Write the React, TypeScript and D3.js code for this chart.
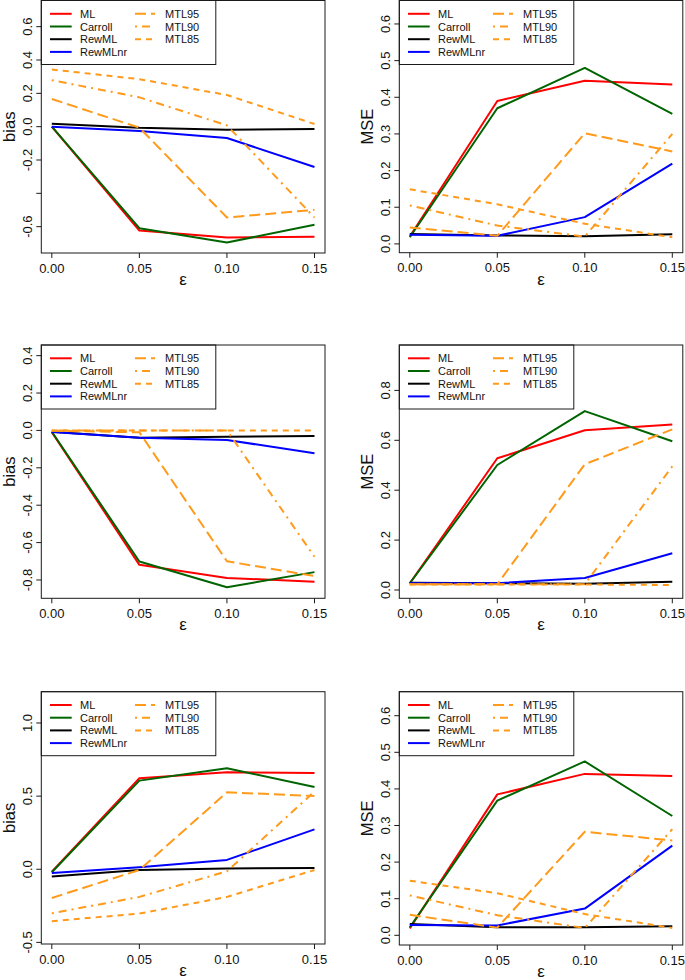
import React from "react";
import * as d3 from "d3";

// ---------- data ----------
const eps = [0, 0.05, 0.1, 0.15];
const xTickLabels = ["0.00", "0.05", "0.10", "0.15"];
const seriesNames = ["ML", "Carroll", "RewML", "RewMLnr", "MTL95", "MTL90", "MTL85"];
const seriesColors = ["#ff0000", "#006400", "#000000", "#0000ff", "#ff9a1a", "#ff9a1a", "#ff9a1a"];
const seriesDash = [null, null, null, null, "11 5", "2 5 8 5", "6 5"];

// panel 1: bias (top-left)
const biasTop = [
  [0, -0.623, -0.665, -0.661],
  [0, -0.609, -0.695, -0.589],
  [0.018, -0.006, -0.018, -0.014],
  [0, -0.026, -0.068, -0.242],
  [0.166, -0.006, -0.545, -0.499],
  [0.279, 0.176, 0.008, -0.545],
  [0.343, 0.285, 0.19, 0.016],
];
// panel 2: MSE (top-right)
const mseTop = [
  [0.02, 0.39, 0.445, 0.435],
  [0.018, 0.37, 0.48, 0.355],
  [0.027, 0.023, 0.021, 0.026],
  [0.025, 0.022, 0.073, 0.219],
  [0.045, 0.022, 0.302, 0.252],
  [0.105, 0.05, 0.02, 0.3],
  [0.149, 0.108, 0.055, 0.018],
];
// panel 3: bias (middle-left)
const biasMid = [
  [-0.009, -0.719, -0.789, -0.809],
  [-0.007, -0.701, -0.839, -0.758],
  [-0.007, -0.039, -0.034, -0.03],
  [-0.009, -0.039, -0.051, -0.122],
  [-0.002, -0.01, -0.7, -0.779],
  [0.0, 0.0, 0.0, -0.676],
  [0.0, -0.001, 0.0, 0.0],
];
// panel 4: MSE (middle-right)
const mseMid = [
  [0.027, 0.528, 0.64, 0.663],
  [0.027, 0.501, 0.717, 0.596],
  [0.029, 0.027, 0.025, 0.033],
  [0.027, 0.027, 0.048, 0.147],
  [0.023, 0.023, 0.504, 0.644],
  [0.023, 0.023, 0.023, 0.496],
  [0.022, 0.022, 0.022, 0.02],
];
// panel 5: bias (bottom-left)
const biasBot = [
  [-0.016, 0.622, 0.663, 0.658],
  [-0.02, 0.606, 0.69, 0.563],
  [-0.05, -0.005, 0.005, 0.009],
  [-0.025, 0.014, 0.064, 0.273],
  [-0.196, -0.005, 0.526, 0.501],
  [-0.301, -0.189, -0.014, 0.531],
  [-0.355, -0.303, -0.189, -0.005],
];
// panel 6: MSE (bottom-right)
const mseBot = [
  [0.019, 0.385, 0.441, 0.435],
  [0.022, 0.368, 0.475, 0.326],
  [0.031, 0.022, 0.022, 0.025],
  [0.028, 0.027, 0.073, 0.245],
  [0.056, 0.021, 0.283, 0.259],
  [0.109, 0.055, 0.02, 0.29],
  [0.149, 0.115, 0.058, 0.02],
];

const ticksBiasTop = [-0.6, -0.4, -0.2, 0, 0.2, 0.4, 0.6];
const labelsBiasTop = ["-0.6", "", "-0.2", "0.0", "0.2", "0.4", "0.6"];
const ticksMseTop = [0, 0.1, 0.2, 0.3, 0.4, 0.5, 0.6];
const labelsMseTop = ["0.0", "0.1", "0.2", "0.3", "0.4", "0.5", "0.6"];
const ticksBiasMid = [-0.8, -0.6, -0.4, -0.2, 0, 0.2, 0.4];
const labelsBiasMid = ["-0.8", "-0.6", "-0.4", "-0.2", "0.0", "0.2", "0.4"];
const ticksMseMid = [0, 0.2, 0.4, 0.6, 0.8];
const labelsMseMid = ["0.0", "0.2", "0.4", "0.6", "0.8"];
const ticksBiasBot = [-0.5, 0, 0.5, 1.0];
const labelsBiasBot = ["-0.5", "0.0", "0.5", "1.0"];
const ticksMseBot = [0, 0.1, 0.2, 0.3, 0.4, 0.5, 0.6];
const labelsMseBot = ["0.0", "0.1", "0.2", "0.3", "0.4", "0.5", "0.6"];

// ---------- layout ----------
const LEFT_X: [number, number] = [41.3, 325];
const RIGHT_X: [number, number] = [399.3, 682.8];

type Panel = {
  xr: [number, number];
  top: number;
  bottom: number;
  ydom: [number, number];
  ylab: string;
  data: number[][];
  ticks: number[];
  labels: string[];
};

const panels: Panel[] = [
  { xr: LEFT_X, top: 0.5, bottom: 253, ydom: [-0.758, 0.757], ylab: "bias", data: biasTop, ticks: ticksBiasTop, labels: labelsBiasTop },
  { xr: RIGHT_X, top: 0.5, bottom: 252.7, ydom: [-0.024, 0.664], ylab: "MSE", data: mseTop, ticks: ticksMseTop, labels: labelsMseTop },
  { xr: LEFT_X, top: 345, bottom: 598.3, ydom: [-0.898, 0.457], ylab: "bias", data: biasMid, ticks: ticksBiasMid, labels: labelsBiasMid },
  { xr: RIGHT_X, top: 345, bottom: 598.3, ydom: [-0.0333, 0.982], ylab: "MSE", data: mseMid, ticks: ticksMseMid, labels: labelsMseMid },
  { xr: LEFT_X, top: 691.7, bottom: 944, ydom: [-0.511, 1.214], ylab: "bias", data: biasBot, ticks: ticksBiasBot, labels: labelsBiasBot },
  { xr: RIGHT_X, top: 691.7, bottom: 945, ydom: [-0.0265, 0.6656], ylab: "MSE", data: mseBot, ticks: ticksMseBot, labels: labelsMseBot },
];

const FONT = "'Liberation Sans', Arial, Helvetica, sans-serif";
const FRAME = "#1a1a1a";

function PanelView({ p, idx }: { p: Panel; idx: number }) {
  const x = d3.scaleLinear().domain([-0.006, 0.156]).range(p.xr);
  const y = d3.scaleLinear().domain(p.ydom).range([p.bottom, p.top]);
  const line = d3
    .line<number>()
    .x((_, i) => x(eps[i]))
    .y((d) => y(d));
  const L = p.xr[0];
  const R = p.xr[1];
  const cx = (L + R) / 2;
  const cy = (p.top + p.bottom) / 2;
  const clipId = `clip${idx}`;
  const lgW = 174.5;
  const lgH = 64;
  const rowY = (k: number) => p.top + 13.3 + k * 12.7;
  return (
    <g>
      <defs>
        <clipPath id={clipId}>
          <rect x={L} y={p.top} width={R - L} height={p.bottom - p.top} />
        </clipPath>
      </defs>
      <g clipPath={`url(#${clipId})`}>
        {p.data.map((vals, s) => (
          <path
            key={s}
            d={line(vals) || ""}
            fill="none"
            stroke={seriesColors[s]}
            strokeWidth={2}
            strokeDasharray={seriesDash[s] || undefined}
            strokeLinejoin="round"
          />
        ))}
      </g>
      {/* legend */}
      <rect x={L} y={p.top} width={lgW} height={lgH} fill="white" stroke={FRAME} strokeWidth={1} />
      {seriesNames.map((nm, s) => {
        const col = s < 4 ? 0 : 1;
        const row = s < 4 ? s : s - 4;
        const lx0 = L + (col === 0 ? 8.7 : 93.7);
        const lx1 = L + (col === 0 ? 30.4 : 113.7);
        const tx = L + (col === 0 ? 38.7 : 123.7);
        const yy = rowY(row);
        return (
          <g key={nm}>
            <line x1={lx0} x2={lx1} y1={yy} y2={yy} stroke={seriesColors[s]} strokeWidth={2} strokeDasharray={seriesDash[s] || undefined} />
            <text x={tx} y={yy + 4} fontSize={11} fontFamily={FONT} fill="#111">
              {nm}
            </text>
          </g>
        );
      })}
      {/* box */}
      <rect x={L} y={p.top} width={R - L} height={p.bottom - p.top} fill="none" stroke={FRAME} strokeWidth={1} />
      {/* x axis */}
      {eps.map((e, i) => (
        <g key={i}>
          <line x1={x(e)} x2={x(e)} y1={p.bottom} y2={p.bottom + 5} stroke={FRAME} />
          <text x={x(e)} y={p.bottom + 19.5} textAnchor="middle" fontSize={13} fontFamily={FONT} fill="#111">
            {xTickLabels[i]}
          </text>
        </g>
      ))}
      <text x={cx} y={p.bottom + 32} textAnchor="middle" fontSize={17} fontFamily={FONT} fill="#111">
        ε
      </text>
      {/* y axis */}
      {p.ticks.map((t, i) => (
        <g key={i}>
          <line x1={L - 5} x2={L} y1={y(t)} y2={y(t)} stroke={FRAME} />
          {p.labels[i] && (
            <text
              transform={`translate(${L - 9.8},${y(t)}) rotate(-90)`}
              textAnchor="middle"
              fontSize={13}
              fontFamily={FONT}
              fill="#111"
            >
              {p.labels[i]}
            </text>
          )}
        </g>
      ))}
      <text
        transform={`translate(${L - 26.2},${cy}) rotate(-90)`}
        textAnchor="middle"
        fontSize={16.5}
        fontFamily={FONT}
        fill="#111"
      >
        {p.ylab}
      </text>
    </g>
  );
}

export default function App() {
  return (
    <svg
      width={685}
      height={980}
      viewBox="0 0 685 980"
      style={{ position: "absolute", left: 0, top: 0, background: "white" }}
    >
      <rect x={0} y={0} width={685} height={980} fill="white" />
      {panels.map((p, i) => (
        <PanelView key={i} p={p} idx={i} />
      ))}
    </svg>
  );
}
